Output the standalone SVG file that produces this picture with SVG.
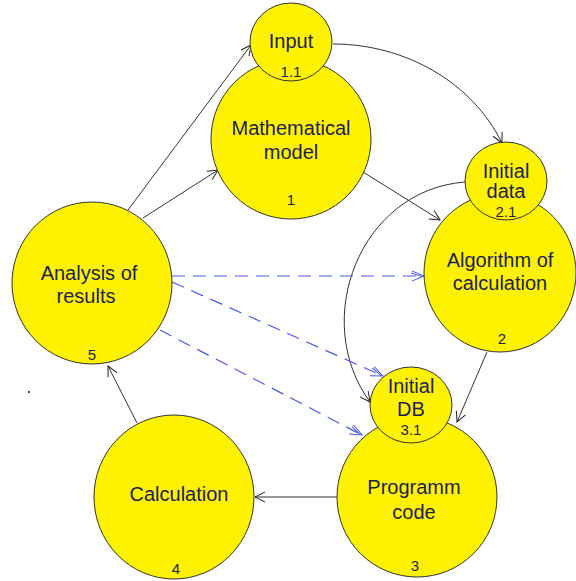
<svg xmlns="http://www.w3.org/2000/svg" width="576" height="581" viewBox="0 0 576 581">
<defs>
<marker id="ah" markerWidth="12" markerHeight="12" refX="11" refY="6" orient="auto" markerUnits="userSpaceOnUse">
<path d="M1,1 L11,6 L1,11" fill="none" stroke="#222" stroke-width="1"/>
</marker>
<marker id="ahb" markerWidth="14" markerHeight="12" refX="13" refY="6" orient="auto" markerUnits="userSpaceOnUse">
<path d="M1,1 L13,6 L1,11 M0,3 L11,6.5" fill="none" stroke="#4a5ae8" stroke-width="1"/>
</marker>
</defs>
<style>
.n{fill:#fff200;stroke:#333;stroke-width:1}
.t{font-family:"Liberation Sans",Arial,sans-serif;font-size:20px;fill:#1c1f4f;text-anchor:middle}
.s{font-family:"Liberation Sans",Arial,sans-serif;font-size:15px;fill:#1c1f4f;text-anchor:middle}
.c{fill:none;stroke:#333;stroke-width:1;marker-end:url(#ah)}
.d{fill:none;stroke:#4a5ae8;stroke-width:1.2;stroke-dasharray:13 8;marker-end:url(#ahb)}
</style>
<rect width="576" height="581" fill="#fff"/>
<g id="connectors">
<path class="c" d="M128,210 L251,45"/>
<path class="c" d="M143,218 L218,170"/>
<path class="c" d="M333,44 C405,44 472,82 502,143"/>
<path class="c" d="M363,172 L440,220"/>
<path class="c" d="M465,182 C360,190 310,320 370,402"/>
<path class="c" d="M487,352 L457,422"/>
<path class="c" d="M337,497 L255,497"/>
<path class="c" d="M137,423 L108,366"/>
<path class="d" d="M172,276 L424,276"/>
<path class="d" d="M172,282 L383,376"/>
<path class="d" d="M160,330 L362,435"/>
</g>
<g id="n1">
<ellipse class="n" cx="291" cy="139" rx="80" ry="80"/>
<text class="t" x="291" y="135">Mathematical</text>
<text class="t" x="291" y="159">model</text>
<text class="s" x="291" y="205">1</text>
</g>
<g id="n1_1">
<ellipse class="n" cx="291" cy="42" rx="41" ry="39"/>
<text class="t" x="291" y="48">Input</text>
<text class="s" x="291" y="77">1.1</text>
</g>
<g id="n2">
<ellipse class="n" cx="500" cy="273" rx="76" ry="79"/>
<text class="t" x="500" y="267">Algorithm of</text>
<text class="t" x="500" y="290">calculation</text>
<text class="s" x="502" y="344">2</text>
</g>
<g id="n2_1">
<ellipse class="n" cx="506" cy="181" rx="41" ry="39"/>
<text class="t" x="506" y="178">Initial</text>
<text class="t" x="506" y="198">data</text>
<text class="s" x="506" y="217">2.1</text>
</g>
<g id="n3">
<ellipse class="n" cx="417" cy="497" rx="80" ry="80"/>
<text class="t" x="414" y="494">Programm</text>
<text class="t" x="414" y="519">code</text>
<text class="s" x="415" y="571">3</text>
</g>
<g id="n3_1">
<ellipse class="n" cx="411" cy="405" rx="41" ry="38"/>
<text class="t" x="411" y="393">Initial</text>
<text class="t" x="411" y="416">DB</text>
<text class="s" x="411" y="435">3.1</text>
</g>
<g id="n4">
<ellipse class="n" cx="174" cy="497" rx="80" ry="82"/>
<text class="t" x="179" y="501">Calculation</text>
<text class="s" x="176" y="574">4</text>
</g>
<g id="n5">
<ellipse class="n" cx="92" cy="283" rx="80" ry="81"/>
<text class="t" x="89" y="280">Analysis of</text>
<text class="t" x="86" y="303">results</text>
<text class="s" x="92" y="360">5</text>
</g>
<rect x="28" y="391" width="2" height="2" fill="#444"/>
</svg>
